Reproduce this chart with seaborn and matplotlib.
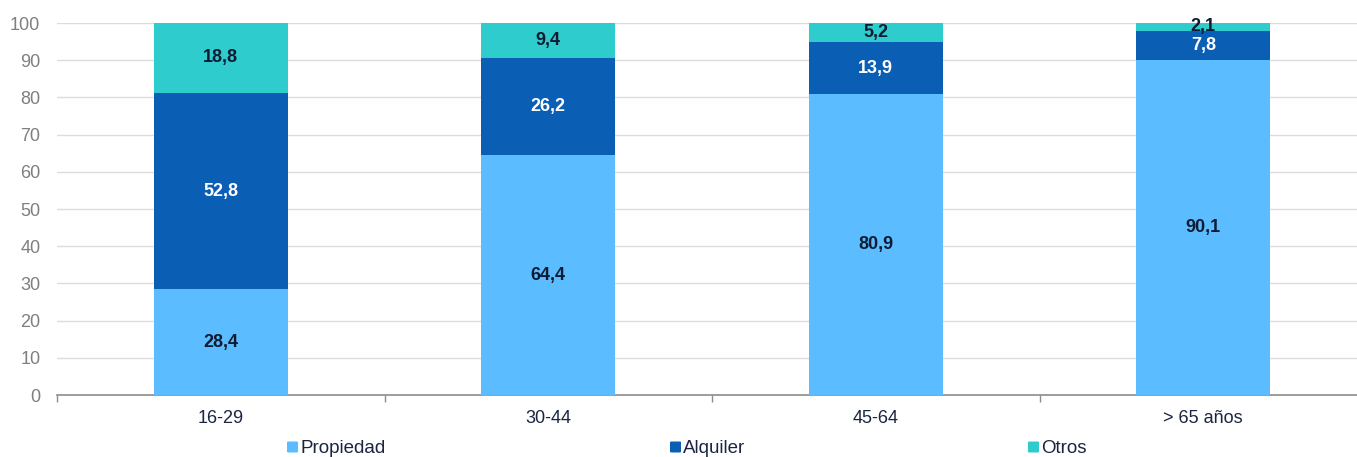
import matplotlib
matplotlib.use("Agg")
import matplotlib.pyplot as plt
from matplotlib.patches import FancyBboxPatch
import seaborn as sns
import pandas as pd
import numpy as np

# Tenencia de la vivienda por grupo de edad (%)
grupos = ["16-29", "30-44", "45-64", "> 65 años"]
propiedad = [28.4, 64.4, 80.9, 90.1]
alquiler = [52.8, 26.2, 13.9, 7.8]
otros = [18.8, 9.4, 5.2, 2.1]

series = ["Propiedad", "Alquiler", "Otros"]
colores = {"Propiedad": "#5BBDFF", "Alquiler": "#0A5EB4", "Otros": "#2ECCCC"}
color_texto = {"Propiedad": "#0F1B33", "Alquiler": "white", "Otros": "#0F1B33"}

df = pd.DataFrame({"grupo": grupos, "Propiedad": propiedad,
                   "Alquiler": alquiler, "Otros": otros})
acum = df[series].cumsum(axis=1)

sns.set_theme(style="white")
plt.rcParams["font.family"] = ["Liberation Sans", "DejaVu Sans"]

W, H = 1357, 457
fig = plt.figure(figsize=(W / 100, H / 100), dpi=100)
ax = fig.add_axes([57 / W, 1 - 395 / H, 1310 / W, 372 / H])

# Barras apiladas: se dibuja primero el total acumulado y encima cada tramo inferior
for s in reversed(series):
    sns.barplot(x=df["grupo"], y=acum[s], color=colores[s], width=0.41,
                saturation=1, ax=ax, zorder=3, edgecolor="none")

# Etiquetas de valor en el centro de cada tramo
for i in range(len(grupos)):
    base = 0.0
    for s in series:
        v = df[s].iloc[i]
        ax.text(i, base + v / 2, f"{v:.1f}".replace(".", ","),
                ha="center", va="center", fontsize=13, fontweight="bold",
                color=color_texto[s], zorder=5)
        base += v

ax.set_ylim(0, 100)
ax.set_xlim(-0.5, 3.5)
ax.set_yticks(np.arange(0, 101, 10))
ax.yaxis.grid(True, color="#DCDCDC", linewidth=1, zorder=0)
ax.set_axisbelow(True)
ax.set_xlabel("")
ax.set_ylabel("")

for lado in ["top", "right", "left"]:
    ax.spines[lado].set_visible(False)
ax.spines["bottom"].set_color("#8C8C8C")
ax.spines["bottom"].set_linewidth(1.2)

ax.tick_params(axis="y", length=0, labelsize=13, labelcolor="#7F7F7F", pad=12)
ax.set_xticks(range(len(grupos)))
ax.set_xticklabels(grupos)
ax.tick_params(axis="x", which="major", length=0, labelsize=13,
               labelcolor="#1A2540", pad=11)
# Marcas de separación entre categorías
ax.set_xticks(np.arange(-0.5, 3.6, 1.0), minor=True)
ax.tick_params(axis="x", which="minor", bottom=True, length=5,
               color="#8C8C8C", width=1, direction="out")

# Leyenda: cuadrado de color (esquinas redondeadas) seguido del nombre de la serie
leyenda_x = [287, 670, 1028]
leyenda_y = 447
lado_px = 11
for s, x0 in zip(series, leyenda_x):
    fig.patches.append(FancyBboxPatch((x0 / W, 1 - (leyenda_y + lado_px / 2) / H),
                                      lado_px / W, lado_px / H,
                                      boxstyle="round,pad=0,rounding_size=0.0015",
                                      transform=fig.transFigure,
                                      facecolor=colores[s], edgecolor="none"))
    fig.text((x0 + lado_px + 2) / W, 1 - (leyenda_y + 6) / H, s,
             ha="left", va="baseline", fontsize=13.5, color="#1A2540")

fig.savefig("out.png", dpi=100)
